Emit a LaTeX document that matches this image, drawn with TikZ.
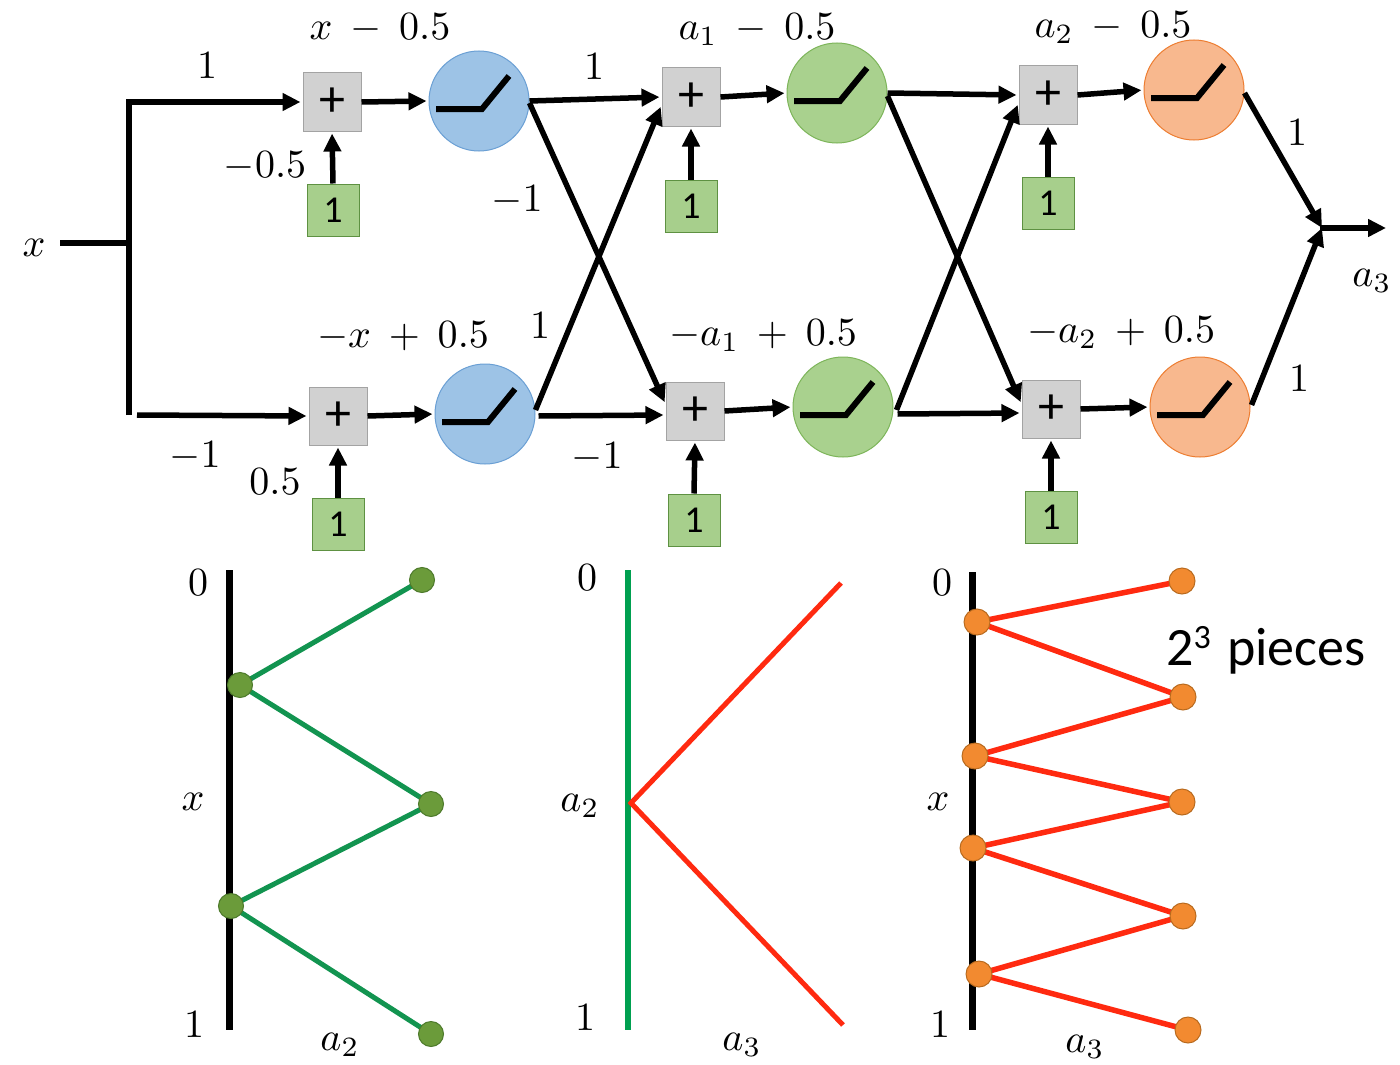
\documentclass[tikz,border=0pt]{standalone}
\usepackage{fontspec}
\newfontfamily\carlito{Carlito}
\usetikzlibrary{arrows.meta,calc}
\definecolor{boxfill}{HTML}{D1D1D1}
\definecolor{boxdraw}{HTML}{A3A3A3}
\definecolor{biasfill}{HTML}{A7CF8C}
\definecolor{biasdraw}{HTML}{5E9142}
\definecolor{bluefill}{HTML}{9DC3E6}
\definecolor{bluedraw}{HTML}{6A9FD4}
\definecolor{greenfill}{HTML}{A9D18E}
\definecolor{greendraw}{HTML}{7DB55A}
\definecolor{orangefill}{HTML}{F8B88E}
\definecolor{orangedraw}{HTML}{ED7D31}
\definecolor{lineg}{HTML}{129450}
\definecolor{axisg}{HTML}{00A050}
\definecolor{dotg}{HTML}{6B9B3A}
\definecolor{dotgd}{HTML}{4D7A2B}
\definecolor{redl}{HTML}{FF2A10}
\definecolor{doto}{HTML}{F28A30}
\definecolor{dotod}{HTML}{B86A1E}
\newcommand\relu[1]{\draw[line width=6pt] ($(#1.center)+(-43,8)$) -- ($(#1.center)+(3,8)$) -- ($(#1.center)+(30,-25)$);}
\newcommand\lblfont{\medmuskip=8mu\relax}
\newcommand\plusfont{\carlito\fontsize{52}{56}\selectfont}
\newcommand\onefont{\carlito\fontsize{38}{42}\selectfont}
\begin{document}
\begin{tikzpicture}[x=1pt,y=-1pt,
  lbl/.style={font=\lblfont, inner sep=0pt, anchor=base, scale=4},
  sumbox/.style={draw=boxdraw, fill=boxfill, minimum width=58pt, minimum height=58pt, inner sep=0pt, line width=1pt, font=\plusfont},
  bias/.style={draw=biasdraw, fill=biasfill, minimum width=52pt, minimum height=52pt, inner sep=0pt, line width=1pt, font=\onefont},
  neuron/.style={circle, minimum size=100pt, inner sep=0pt, line width=1pt},
  bluen/.style={neuron, fill=bluefill, draw=bluedraw},
  greenn/.style={neuron, fill=greenfill, draw=greendraw},
  orangen/.style={neuron, fill=orangefill, draw=orangedraw},
  conn/.style={line width=5.5pt, -{Triangle[length=18pt,width=17pt]}, shorten >=2pt},
  plain/.style={line width=5.5pt},
  gdot/.style={circle, minimum size=25pt, inner sep=0pt, fill=dotg, draw=dotgd, line width=1pt},
  odot/.style={circle, minimum size=26pt, inner sep=0pt, fill=doto, draw=dotod, line width=1pt},
]
\useasboundingbox (0,0) rectangle (1400,1065);
\fill[white] (0,0) rectangle (1400,1065);

% ---------- network ----------
\node[sumbox] (p1) at (332,102) {+};
\node[bias]   (b1) at (333,210) {1};
\node[bluen]  (c1) at (479,101) {};
\node[sumbox] (p2) at (338,416) {+};
\node[bias]   (b2) at (338,524) {1};
\node[bluen]  (c2) at (485,414) {};
\node[sumbox] (p3) at (691,97) {+};
\node[bias]   (b3) at (691,206) {1};
\node[greenn] (c3) at (837,93) {};
\node[sumbox] (p4) at (695,411) {+};
\node[bias]   (b4) at (694,520) {1};
\node[greenn] (c4) at (843,407) {};
\node[sumbox] (p5) at (1048,95) {+};
\node[bias]   (b5) at (1048,203) {1};
\node[orangen] (c5) at (1194,90) {};
\node[sumbox] (p6) at (1051,409) {+};
\node[bias]   (b6) at (1051,517) {1};
\node[orangen] (c6) at (1200,407) {};
\foreach \c in {c1,c2,c3,c4,c5,c6}{\relu{\c}}

\node[lbl] (xin) at (34,256) {$x$};
\coordinate (xend) at (60,243);
\coordinate (split) at (129,243);
\coordinate (top) at (129,102);
\coordinate (bot) at (129,415);
\coordinate (botstart) at (137,415);
\coordinate (j) at (1322,228);
\coordinate (out) at (1386,228);

\draw[plain] (xend) -- (split);
\draw[plain] (bot) -- (top);
\draw[conn] ($(top)+(-2.75,0)$) -- (p1.west);
\draw[conn] (botstart) -- (p2.west);
\foreach \p/\c in {p1/c1,p2/c2,p3/c3,p4/c4,p5/c5,p6/c6}{\draw[conn] (\p.east) -- (\c.west);}
\foreach \b/\p in {b1/p1,b2/p2,b3/p3,b4/p4,b5/p5,b6/p6}{\draw[conn] (\b.north) -- (\p.south);}

\draw[conn] (c1.east) -- (p3.west);
\draw[conn] ($(c1.east)+(0,2)$) -- ($(p4.west)+(0,-7)$);
\draw[conn] ($(c2.east)+(0,-4)$) -- ($(p3.west)+(0,8)$);
\draw[conn] ($(c2.east)+(3,2)$) -- ($(p4.west)+(0,4)$);
\draw[conn] (c3.east) -- (p5.west);
\draw[conn] ($(c3.east)+(0,3)$) -- ($(p6.west)+(0,-5)$);
\draw[conn] ($(c4.east)+(3,3)$) -- ($(p5.west)+(0,8)$);
\draw[conn] ($(c4.east)+(4,7)$) -- ($(p6.west)+(0,4)$);
\draw[conn,shorten >=0pt] ($(c5.east)+(0,3)$) -- (j);
\draw[conn,shorten >=0pt] ($(c6.east)+(1,-2)$) -- (j);
\draw[conn,shorten >=0pt] ($(j)+(-2,0)$) -- (out);

% labels
\node[lbl] (l1) at (207,78) {$1$};
\node[lbl] (l2) at (380,40) {$x-0.5$};
\node[lbl] (l3) at (265,177) {$-0.5$};
\node[lbl] (l4) at (195,467) {$-1$};
\node[lbl] (l5) at (403,347) {$-x+0.5$};
\node[lbl] (l6) at (275,494) {$0.5$};
\node[lbl] (l7) at (594,80) {$1$};
\node[lbl] (l8) at (517,211) {$-1$};
\node[lbl] (l9) at (540,338) {$1$};
\node[lbl] (l10) at (597,468) {$-1$};
\node[lbl] (l11) at (757,40) {$a_1-0.5$};
\node[lbl] (l12) at (763,345) {$-a_1+0.5$};
\node[lbl] (l13) at (1113,38) {$a_2-0.5$};
\node[lbl] (l14) at (1121,342) {$-a_2+0.5$};
\node[lbl] (l15) at (1297,145) {$1$};
\node[lbl] (l16) at (1299,391) {$1$};
\node[lbl] (l17) at (1372,286) {$a_3$};

% ---------- panel 1 ----------
\coordinate (ax1t) at (229,570);
\coordinate (ax1b) at (229,1030);
\draw[line width=7pt] (ax1t) -- (ax1b);
\coordinate (g1) at (422,580);
\coordinate (g2) at (240,685);
\coordinate (g3) at (431,804);
\coordinate (g4) at (231,906);
\coordinate (g5) at (431,1034);
\draw[lineg, line width=5pt] (g1) -- (g2) -- (g3) -- (g4) -- (g5);
\foreach \g in {g1,g2,g3,g4,g5}{\node[gdot] (d\g) at (\g) {};}
\node[lbl] (q1a) at (198,595) {$0$};
\node[lbl] (q1b) at (193,810) {$x$};
\node[lbl] (q1c) at (194,1037) {$1$};
\node[lbl] (q1d) at (340,1050) {$a_2$};

% ---------- panel 2 ----------
\coordinate (ax2t) at (628,570);
\coordinate (ax2b) at (628,1030);
\draw[axisg, line width=6pt] (ax2t) -- (ax2b);
\coordinate (r1) at (841,583);
\coordinate (r2) at (631,803);
\coordinate (r3) at (843,1025);
\draw[redl, line width=5pt] (r1) -- (r2) -- (r3);
\node[lbl] (q2a) at (587,590) {$0$};
\node[lbl] (q2b) at (580,811) {$a_2$};
\node[lbl] (q2c) at (585,1030) {$1$};
\node[lbl] (q2d) at (742,1050) {$a_3$};

% ---------- panel 3 ----------
\coordinate (ax3t) at (972,572);
\coordinate (ax3b) at (972,1030);
\draw[line width=7pt] (ax3t) -- (ax3b);
\coordinate (o1) at (1182,581);
\coordinate (o2) at (977,622);
\coordinate (o3) at (1183,697);
\coordinate (o4) at (975,756);
\coordinate (o5) at (1182,802);
\coordinate (o6) at (973,848);
\coordinate (o7) at (1183,916);
\coordinate (o8) at (979,974);
\coordinate (o9) at (1188,1030);
\draw[redl, line width=5.5pt] (o1) -- (o2) -- (o3) -- (o4) -- (o5) -- (o6) -- (o7) -- (o8) -- (o9);
\foreach \o in {o1,o2,o3,o4,o5,o6,o7,o8,o9}{\node[odot] (d\o) at (\o) {};}
\node[lbl] (q3a) at (942,595) {$0$};
\node[lbl] (q3b) at (938,810) {$x$};
\node[lbl] (q3c) at (940,1037) {$1$};
\node[lbl] (q3d) at (1085,1052) {$a_3$};
\node[anchor=base west, inner sep=0pt, font=\carlito\fontsize{54}{60}\selectfont] (pieces) at (1166,665) {2\raisebox{17pt}{\fontsize{34}{38}\selectfont 3}\hspace{0.3em}pieces};
\end{tikzpicture}
\end{document}
